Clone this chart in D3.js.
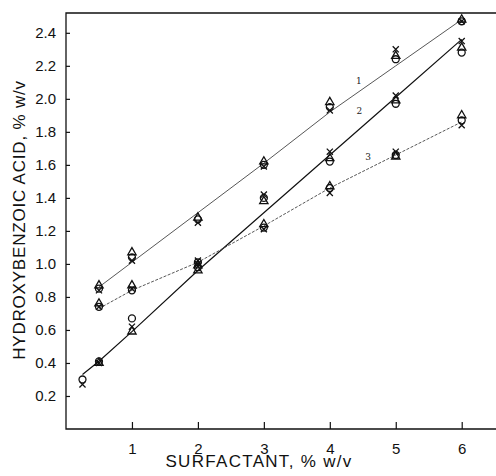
<!DOCTYPE html>
<html>
<head>
<meta charset="utf-8">
<script src="https://cdn.jsdelivr.net/npm/d3@7"></script>
<style>
  html, body { margin: 0; padding: 0; width: 100%; height: 100%; overflow: hidden; background: #fff; }
  #chart { width: 100%; height: 100%; }
  svg { display: block; }
</style>
</head>
<body>
<div id="chart"></div>
<script>
// Values
const xTicks = [1, 2, 3, 4, 5, 6];
const yTicks = [0.2, 0.4, 0.6, 0.8, 1.0, 1.2, 1.4, 1.6, 1.8, 2.0, 2.2, 2.4];

// drawn curves
const line1 = [[0.5, 0.86], [1, 1.01], [2, 1.31], [3, 1.61], [4, 1.92], [5, 2.2], [6, 2.48]];
const line2 = [[0.25, 0.33], [0.5, 0.41], [1, 0.59], [2, 0.96], [3, 1.31], [4, 1.66], [5, 2.01], [6, 2.36]];
const line3 = [[0.5, 0.73], [1, 0.84], [2, 1.01], [3, 1.23], [4, 1.46], [5, 1.66], [6, 1.86]];

// measured points, one list per symbol
const circles1 = [[0.5, 0.85], [1, 1.04], [2, 1.27], [3, 1.60], [4, 1.95], [5, 2.24], [6, 2.47]];
const triangles1 = [[0.5, 0.87], [1, 1.07], [2, 1.28], [3, 1.62], [4, 1.98], [5, 2.26], [6, 2.48]];
const crosses1 = [[0.5, 0.84], [1, 1.02], [2, 1.25], [3, 1.59], [4, 1.93], [5, 2.30], [6, 2.47]];

const circles2 = [[0.25, 0.30], [0.5, 0.41], [1, 0.67], [2, 0.98], [3, 1.40], [4, 1.62], [5, 1.97], [6, 2.28]];
const triangles2 = [[0.5, 0.40], [1, 0.59], [2, 0.96], [3, 1.38], [4, 1.64], [5, 1.99], [6, 2.31]];
const crosses2 = [[0.25, 0.27], [0.5, 0.40], [1, 0.62], [2, 1.00], [3, 1.42], [4, 1.68], [5, 2.02], [6, 2.35]];

const circles3 = [[0.5, 0.74], [1, 0.84], [2, 1.01], [3, 1.22], [4, 1.46], [5, 1.66], [6, 1.87]];
const triangles3 = [[0.5, 0.76], [1, 0.87], [2, 0.99], [3, 1.24], [4, 1.47], [5, 1.65], [6, 1.90]];
const crosses3 = [[0.5, 0.74], [1, 0.85], [2, 1.02], [3, 1.21], [4, 1.43], [5, 1.68], [6, 1.84]];

const lineLabels = [
    {text: "1", x: 4.44, y: 2.11},
    {text: "2", x: 4.45, y: 1.93},
    {text: "3", x: 4.58, y: 1.65}
];

const width = 496, height = 476;
const margin = {top: 13, left: 66, right: 0, bottom: 47};
const innerWidth = width - margin.left - margin.right;
const innerHeight = height - margin.top - margin.bottom;

// viewBox so the whole drawing fits the window
const svg = d3.select("#chart")
    .append("svg")
        .attr("width", "100%")
        .attr("height", "100%")
        .attr("viewBox", `0 0 ${width} ${height}`)
        .attr("preserveAspectRatio", "xMidYMid meet");

const innerChart = svg.append("g")
    .attr("transform", `translate(${margin.left}, ${margin.top})`);

// scales
const xScale = d3.scaleLinear()
    .domain([0, 6.52])
    .range([0, innerWidth]);
const yScale = d3.scaleLinear()
    .domain([0, 2.52])
    .range([innerHeight, 0]);

// frame: left, top and bottom only
innerChart.append("path")
    .attr("d", `M${innerWidth},0 H0 V${innerHeight} H${innerWidth}`)
    .attr("fill", "none")
    .attr("stroke", "#111")
    .attr("stroke-width", 1.3);

// axes
const bottomAxis = d3.axisBottom(xScale)
    .tickValues(xTicks)
    .tickSize(-7)
    .tickPadding(14)
    .tickFormat(d3.format("d"));
const gx = innerChart.append("g")
    .attr("class", "axis-x")
    .attr("transform", `translate(0, ${innerHeight})`)
    .call(bottomAxis);

const leftAxis = d3.axisLeft(yScale)
    .tickValues(yTicks)
    .tickSize(-4)
    .tickPadding(10)
    .tickFormat(d3.format(".1f"));
const gy = innerChart.append("g")
    .attr("class", "axis-y")
    .call(leftAxis);

[gx, gy].forEach(g => {
    g.select(".domain").remove();
    g.selectAll(".tick line").attr("stroke", "#111").attr("stroke-width", 1.2);
    g.selectAll(".tick text")
        .attr("fill", "#111")
        .style("font-family", "'Liberation Sans', Arial, sans-serif")
        .style("font-size", "15px");
});

// axis titles
svg.append("text")
    .attr("x", margin.left + 193)
    .attr("y", 467)
    .attr("text-anchor", "middle")
    .style("font-family", "'Liberation Sans', Arial, sans-serif")
    .style("font-size", "17px")
    .style("letter-spacing", "1.3px")
    .attr("fill", "#111")
    .text("SURFACTANT, % w/v");

svg.append("text")
    .attr("transform", "translate(25, 220) rotate(-90)")
    .attr("text-anchor", "middle")
    .style("font-family", "'Liberation Sans', Arial, sans-serif")
    .style("font-size", "17px")
    .style("letter-spacing", "0.8px")
    .attr("fill", "#111")
    .text("HYDROXYBENZOIC ACID, % w/v");

// curves
const lineGen = d3.line()
    .x(d => xScale(d[0]))
    .y(d => yScale(d[1]));

const curves = [
    {data: line1, stroke: "#444", width: 0.9, dash: null},
    {data: line2, stroke: "#111", width: 1.2, dash: null},
    {data: line3, stroke: "#444", width: 0.9, dash: "3,1.5"}
];
innerChart.selectAll(".curve")
    .data(curves)
    .enter()
    .append("path")
        .attr("class", "curve")
        .attr("d", d => lineGen(d.data))
        .attr("fill", "none")
        .attr("stroke", d => d.stroke)
        .attr("stroke-width", d => d.width)
        .attr("stroke-dasharray", d => d.dash);

// markers
const drawSymbols = (data, type, size) => {
    innerChart.append("g")
        .selectAll("path")
        .data(data)
        .enter()
        .append("path")
            .attr("transform", d => `translate(${xScale(d[0])}, ${yScale(d[1])})`)
            .attr("d", d3.symbol().type(type).size(size))
            .attr("fill", "none")
            .attr("stroke", "#111")
            .attr("stroke-width", 1.3);
};

[circles1, circles2, circles3].forEach(s => drawSymbols(s, d3.symbolCircle, 38));
[triangles1, triangles2, triangles3].forEach(s => drawSymbols(s, d3.symbolTriangle, 30));
[crosses1, crosses2, crosses3].forEach(s => drawSymbols(s, d3.symbolTimes, 26));

// curve numbers
innerChart.selectAll(".curve-label")
    .data(lineLabels)
    .enter()
    .append("text")
        .attr("class", "curve-label")
        .attr("x", d => xScale(d.x))
        .attr("y", d => yScale(d.y))
        .attr("text-anchor", "middle")
        .attr("dy", "0.35em")
        .style("font-family", "'DejaVu Serif', serif")
        .style("font-size", "9px")
        .attr("fill", "#222")
        .text(d => d.text);
</script>
</body>
</html>
